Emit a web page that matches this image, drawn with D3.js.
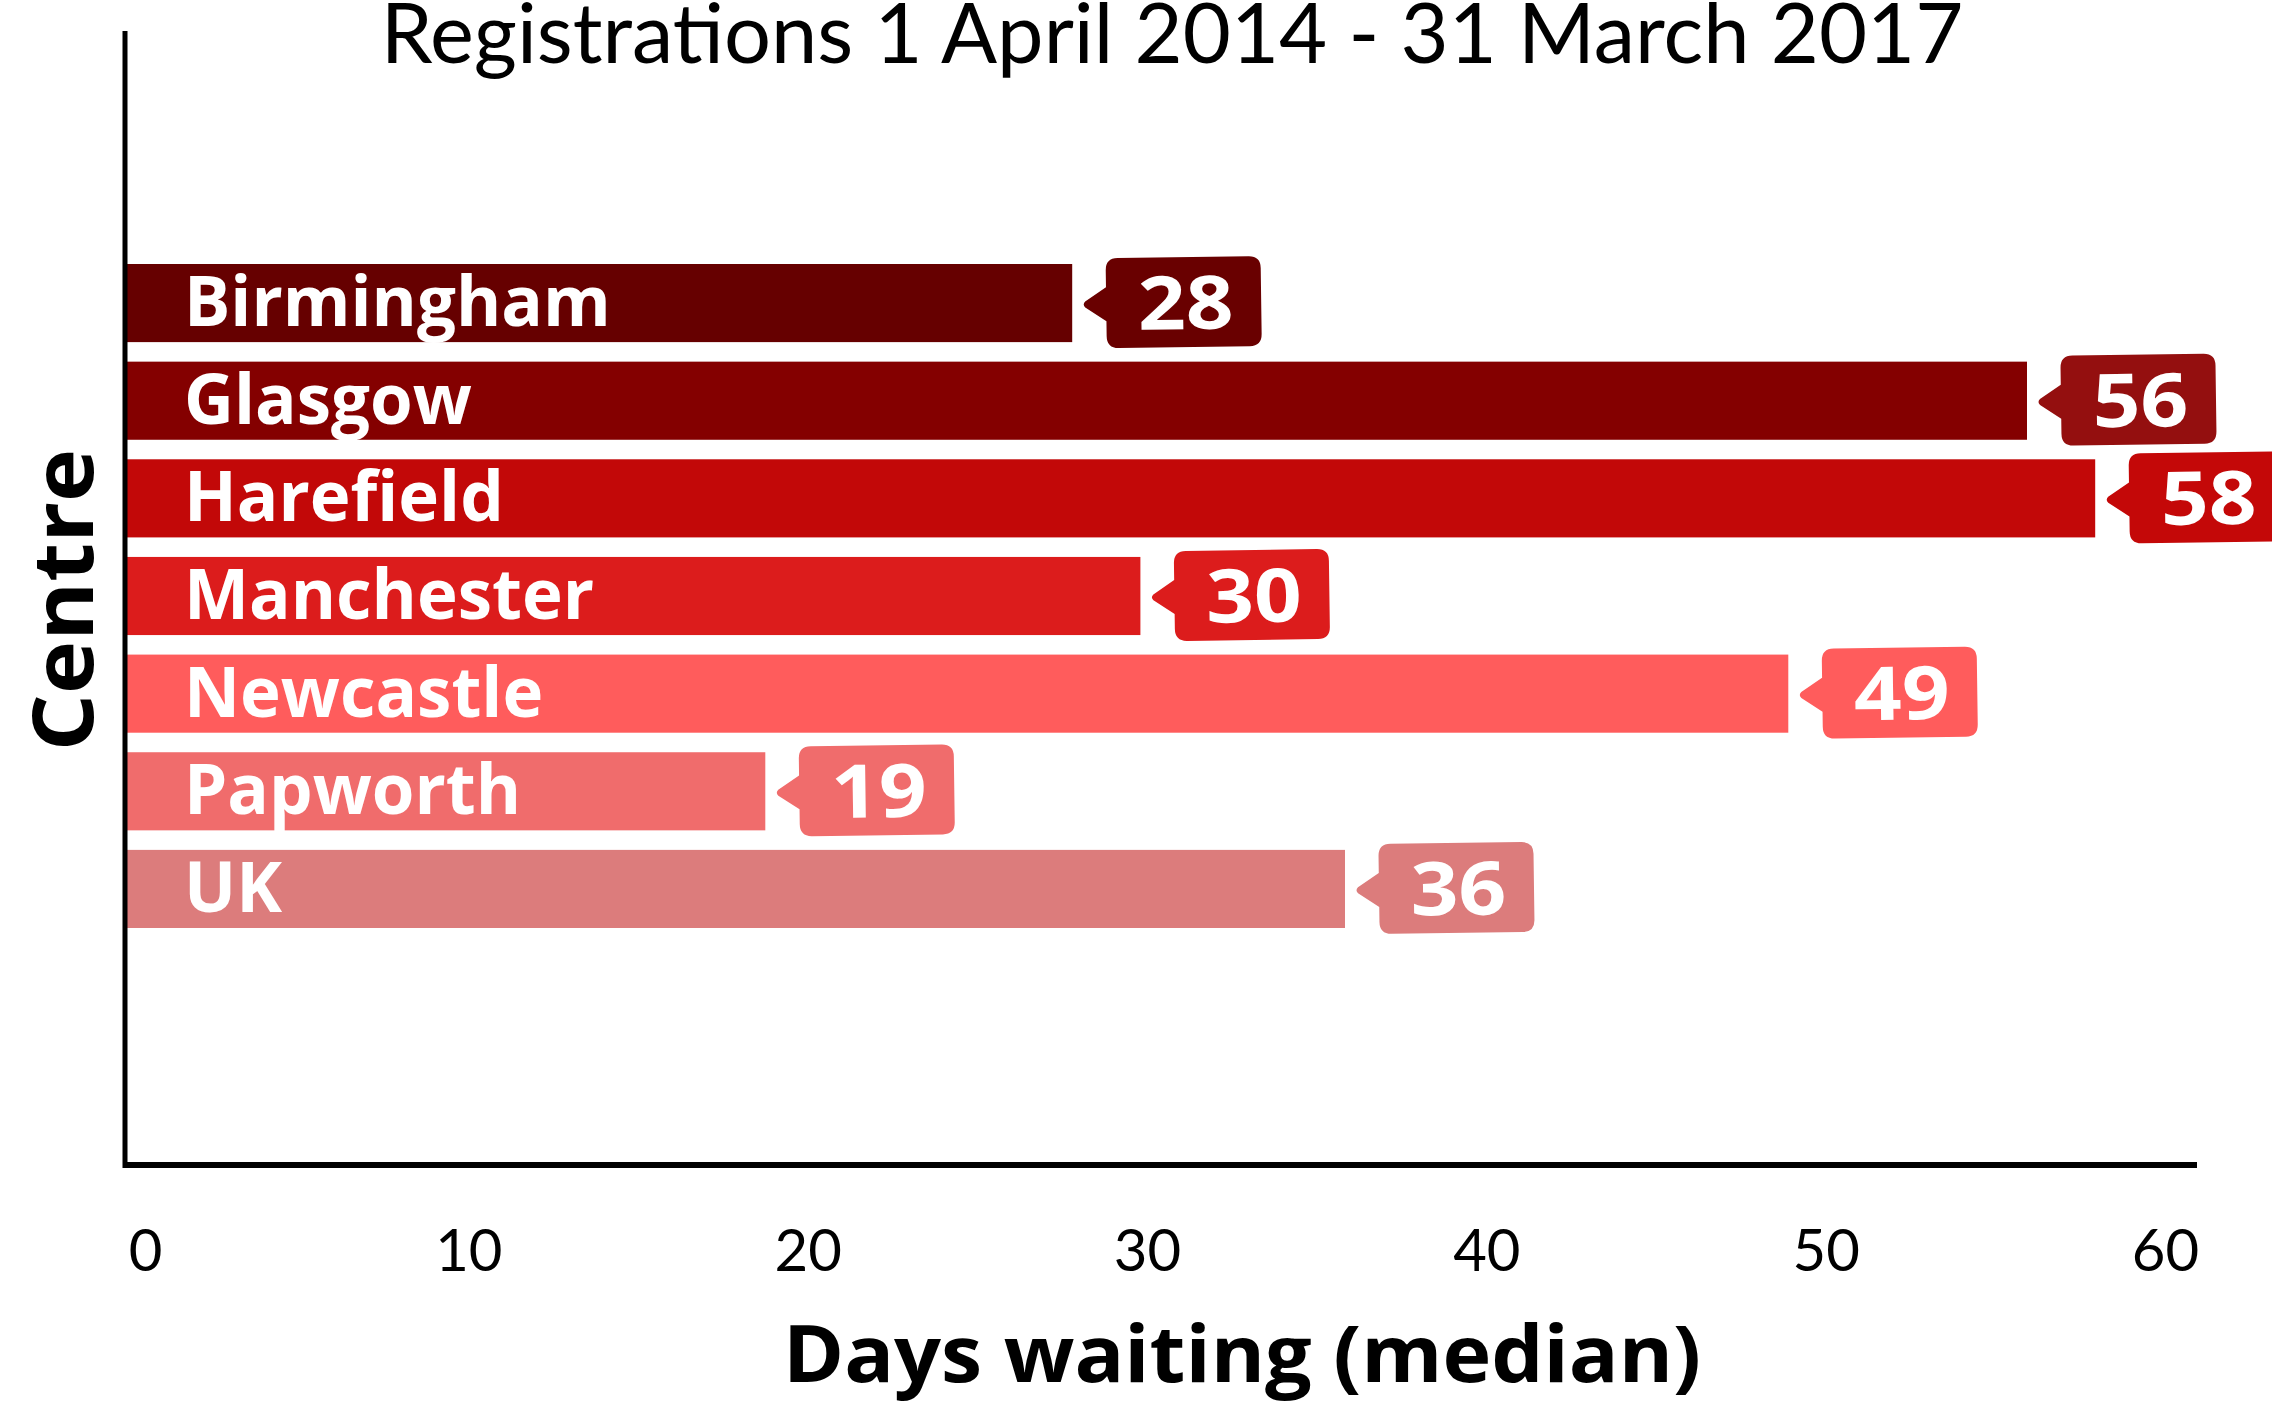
<!DOCTYPE html>
<html>
<head>
<meta charset="utf-8">
<script src="https://cdn.jsdelivr.net/npm/d3@7"></script>
<style>
  html, body { margin: 0; padding: 0; background: #fff; }
  svg { display: block; }
</style>
</head>
<body>
<svg id="chart" width="2272" height="1401"></svg>
<script>
const centres = ["Birmingham", "Glasgow", "Harefield", "Manchester", "Newcastle", "Papworth", "UK"];
const days = [28, 56, 58, 30, 49, 19, 36];
const barColors = ["#660000", "#840000", "#c20808", "#dc1c1c", "#ff5c5c", "#f06c6c", "#dc7c7c"];
const labelColors = ["#690000", "#940f0f", "#c40808", "#dc1c1c", "#ff5c5c", "#f06c6c", "#dc7c7c"];
const xTicks = [0, 10, 20, 30, 40, 50, 60];
const titleText = "Registrations 1 April 2014 - 31 March 2017";
const xTitle = "Days waiting (median)";
const yTitle = "Centre";

const svg = d3.select("#chart");
const boldFont = "'Open Sans', 'DejaVu Sans', sans-serif";
const lightFont = "Lato, 'Open Sans', sans-serif";

const plotLeft = 127;
// scale for the bars
const x = d3.scaleLinear().domain([0, 60]).range([117.4, 2163.4]);
// scale for the tick labels of the axis
const xAxisScale = d3.scaleLinear().domain([0, 60]).range([129, 2165]);
const y = d3.scaleBand().domain(centres).range([264, 928]).paddingInner(0.2).paddingOuter(0);

const data = centres.map((c, i) => ({ name: c, value: days[i], color: barColors[i], lcolor: labelColors[i] }));

// title
svg.append("text")
  .attr("x", 1172).attr("y", 63)
  .attr("text-anchor", "middle")
  .style("font-family", lightFont).style("font-size", "83px").style("font-weight", 400)
  .attr("fill", "#000")
  .text(titleText);

// bars
svg.append("g").selectAll("rect").data(data).join("rect")
  .attr("x", plotLeft)
  .attr("y", d => y(d.name))
  .attr("width", d => x(d.value) - plotLeft)
  .attr("height", y.bandwidth())
  .attr("fill", d => d.color);

// bar names
svg.append("g").selectAll("text").data(data).join("text")
  .attr("transform", d => `translate(184,${y(d.name) + y.bandwidth() / 2 + 23})`)
  .style("font-family", boldFont).style("font-size", "69px").style("font-weight", 700)
  .attr("fill", "#fff")
  .text(d => d.name);

// callouts
const bW = 155, bR = 12, bX = 34, bTop = -46, bBot = 44, bTip = 10;
const calloutPath = `M${bX + bR},${bTop} H${bX + bW - bR} Q${bX + bW},${bTop} ${bX + bW},${bTop + bR} V${bBot - bR} Q${bX + bW},${bBot} ${bX + bW - bR},${bBot} H${bX + bR} Q${bX},${bBot} ${bX},${bBot - bR} V17 L${bTip + 3},3 Q${bTip},0 ${bTip + 3},-3 L${bX},-17 V${bTop + bR} Q${bX},${bTop} ${bX + bR},${bTop} Z`;

const cg = svg.append("g").selectAll("g").data(data).join("g")
  .attr("transform", d => `translate(${x(d.value)},${y(d.name) + y.bandwidth() / 2}) rotate(-0.8, ${bX + bW / 2}, 0)`);
cg.append("path").attr("d", calloutPath).attr("fill", d => d.lcolor);
cg.append("text")
  .attr("transform", `translate(${bX + bW / 2 + 2},26) scale(1.13,1)`)
  .attr("text-anchor", "middle")
  .style("font-family", boldFont).style("font-size", "74px").style("font-weight", 700)
  .attr("fill", "#fff")
  .text(d => d.value);

// axes lines
svg.append("line").attr("x1", 125).attr("x2", 125).attr("y1", 31).attr("y2", 1168)
  .attr("stroke", "#000").attr("stroke-width", 5);
svg.append("line").attr("x1", 127).attr("x2", 2197).attr("y1", 1165).attr("y2", 1165)
  .attr("stroke", "#000").attr("stroke-width", 6);

// x axis tick labels
const xAxis = svg.append("g").attr("transform", "translate(0,1165)")
  .call(d3.axisBottom(xAxisScale).tickValues(xTicks).tickSize(0).tickFormat(d3.format("d")));
xAxis.select(".domain").remove();
xAxis.selectAll("text")
  .attr("y", 106).attr("dy", null)
  .attr("dx", d => d === 0 ? 16 : 0)
  .style("font-family", lightFont).style("font-size", "58px").style("font-weight", 400)
  .attr("fill", "#000");

// axis titles
svg.append("text")
  .attr("transform", "translate(1242,1382) scale(1.06,1)")
  .attr("text-anchor", "middle")
  .style("font-family", boldFont).style("font-size", "78px").style("font-weight", 700)
  .attr("fill", "#000")
  .text(xTitle);

svg.append("text")
  .attr("transform", "translate(93,600) rotate(-90) scale(1.07,1)")
  .attr("text-anchor", "middle")
  .style("font-family", boldFont).style("font-size", "84px").style("font-weight", 700)
  .attr("fill", "#000")
  .text(yTitle);
</script>
</body>
</html>
